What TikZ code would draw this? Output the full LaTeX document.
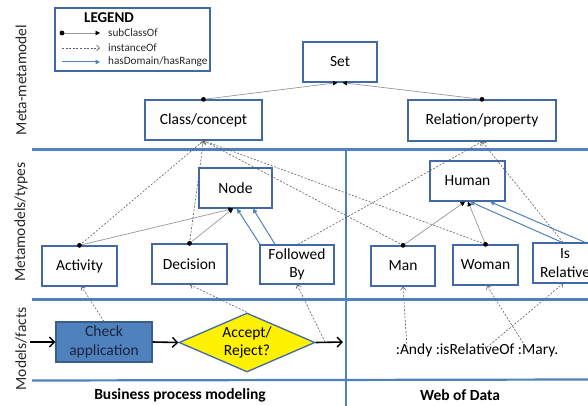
\documentclass[tikz,border=0pt]{standalone}
\usepackage{fontspec}
\setmainfont{Carlito}
\usetikzlibrary{arrows.meta,shapes.geometric}
\definecolor{boxblue}{RGB}{65,105,165}
\definecolor{linegray}{RGB}{150,150,150}
\definecolor{dashgray}{RGB}{95,95,95}
\definecolor{domblue}{RGB}{79,129,189}
\definecolor{divblue}{RGB}{79,129,189}
\definecolor{checkfill}{RGB}{79,129,189}
\definecolor{checkborder}{RGB}{56,93,138}
\definecolor{checktext}{RGB}{25,35,65}
\definecolor{sectext}{RGB}{40,40,40}
\newcommand\lblfont{\fontsize{15.5}{18.5}\selectfont}
\newcommand\legfont{\fontsize{11.2}{13}\selectfont}
\begin{document}
\begin{tikzpicture}[x=1pt,y=-1pt,
  box/.style={draw=boxblue,line width=1.3pt,fill=white,inner sep=0pt,font=\lblfont,align=center,text=black},
  subcl/.style={draw=linegray,line width=0.7pt,-{Triangle[length=4.5pt,width=4.5pt,color=black]}},
  inst/.style={draw=dashgray,line width=0.6pt,dash pattern=on 2pt off 1.6pt,-{Straight Barb[length=3pt,width=5.5pt]}},
  dom/.style={draw=domblue,line width=1pt,-{Triangle[length=4.5pt,width=4.5pt]}},
  flow/.style={draw=black,line width=1.6pt,-{Straight Barb[length=5pt,width=10pt,line width=1.4pt]}},
  divline/.style={draw=divblue,line width=2.2pt},
  dotf/.style={fill=black},
  seclabel/.style={rotate=90,font=\fontsize{15.5}{18}\selectfont,text=sectext},
  legtext/.style={anchor=west,font=\legfont,text=sectext,inner sep=0pt}
]
\useasboundingbox (0,0) rectangle (588,406);
\begin{scope}
\clip (0,0) rectangle (588,406);

% dividers
\draw[divline] (32,149.5) -- (588,149.5);
\draw[divline] (32,299.5) -- (588,299.5);
\draw[divline] (32,380.5) -- (588,379.5);
\draw[divline] (346,149.5) -- (346,406);

% section labels
\node[seclabel] at (21,80) {Meta-metamodel};
\node[seclabel] at (21,222) {Metamodels/types};
\node[seclabel] at (21,349) {Models/facts};

% legend
\node[draw=boxblue,line width=1.3pt,minimum width=155pt,minimum height=63pt,inner sep=0pt] (legend) at (132.5,39.5) {};
\node[font=\bfseries\fontsize{15}{17}\selectfont,text=black] (legtitle) at (109,18) {LEGEND};
\coordinate (l1a) at (62,33); \coordinate (l1b) at (100,33);
\coordinate (l2a) at (62,48); \coordinate (l2b) at (100,48);
\coordinate (l3a) at (62,62); \coordinate (l3b) at (100,62);
\draw[subcl] (l1a) -- (l1b);
\fill[dotf] (l1a) circle (2.4pt);
\draw[inst] (l2a) -- (l2b);
\draw[dom] (l3a) -- (l3b);
\node[legtext] (lt1) at (108,33) {subClassOf};
\node[legtext] (lt2) at (108,48) {instanceOf};
\node[legtext] (lt3) at (108,62) {hasDomain/hasRange};

% meta-metamodel
\node[box,minimum width=74pt,minimum height=40pt] (set) at (340,62) {Set};
\node[box,minimum width=117pt,minimum height=40pt] (class) at (203.5,120) {Class/concept};
\node[box,minimum width=148pt,minimum height=41pt] (rel) at (482,120.5) {Relation/property};

% metamodels
\node[box,minimum width=73pt,minimum height=40pt] (nodeb) at (235.5,188) {Node};
\node[box,minimum width=75pt,minimum height=40pt] (activity) at (79.5,266) {Activity};
\node[box,minimum width=75pt,minimum height=40pt] (decision) at (189.5,264) {Decision};
\node[box,minimum width=74pt,minimum height=39pt] (fb) at (297,264.5) {Followed\\By};
\node[box,minimum width=75pt,minimum height=40pt] (human) at (467.5,181) {Human};
\node[box,minimum width=64pt,minimum height=40pt] (man) at (403,266) {Man};
\node[box,minimum width=65pt,minimum height=40pt] (woman) at (485.5,265) {Woman};
\node[box,minimum width=64pt,minimum height=40pt] (isrel) at (565,263) {Is\\Relative};

% models/facts
\node[draw=checkborder,line width=1.2pt,fill=checkfill,minimum width=96pt,minimum height=40pt,inner sep=0pt,font=\lblfont,align=center,text=checktext] (check) at (104,342) {Check\\application};
\node[diamond,aspect=2.3,draw=boxblue,line width=1.3pt,fill=yellow,minimum width=136pt,minimum height=59pt,inner sep=0pt,font=\lblfont,align=center,text=black] (dia) at (247,342.5) {Accept/\\Reject?};
\node[font=\lblfont,text=black,inner sep=0pt] (facts) at (477,350) {:Andy :isRelativeOf :Mary.};
\coordinate (flowstart) at (30,342);
\coordinate (flowend) at (343,342);
\coordinate (fbarrow) at (325,342);
\draw[flow] (flowstart) -- (check.west);
\draw[flow] (check.east) -- (dia.west);
\draw[flow] (dia.east) -- (flowend);

% subClassOf
\draw[subcl] (class.north) -- ([xshift=-2.5pt]set.south);
\draw[subcl] (rel.north) -- ([xshift=2.5pt]set.south);
\draw[subcl] (activity.north) -- ([xshift=-2.5pt]nodeb.south);
\draw[subcl] (decision.north) -- ([xshift=-2.5pt]nodeb.south);
\draw[subcl] (man.north) -- ([xshift=-2.5pt]human.south);
\draw[subcl] (woman.north) -- ([xshift=0.5pt]human.south);

% hasDomain / hasRange
\draw[dom] ([xshift=-37pt]fb.north) -- ([xshift=1.5pt]nodeb.south);
\draw[dom] ([xshift=-22pt]fb.north) -- ([xshift=17.5pt]nodeb.south);
\draw[dom] ([xshift=-3pt]isrel.north) -- ([xshift=2.5pt]human.south);
\draw[dom] ([xshift=20pt]isrel.north) -- ([xshift=22.5pt]human.south);

% instanceOf (types -> meta)
\draw[inst] (activity.north) -- (class.south);
\draw[inst] (decision.north) -- (class.south);
\draw[inst] (man.north) -- (class.south);
\draw[inst] (woman.north) -- (class.south);
\draw[inst] ([xshift=1pt]fb.north) -- (rel.south);
\draw[inst] ([xshift=-2pt]isrel.north) -- (rel.south);

% instanceOf (facts -> types)
\draw[inst] (check.north) -- ([xshift=2pt]activity.south);
\draw[inst] (dia.north) -- ([xshift=0.5pt]decision.south);
\draw[inst] (fbarrow) -- (fb.south);
\draw[inst] ([xshift=-70pt,yshift=-4pt]facts.north) -- (man.south);
\draw[inst] ([xshift=10pt,yshift=-4pt]facts.north) -- ([xshift=-2pt]isrel.south);
\draw[inst] ([xshift=50pt,yshift=-6pt]facts.north) -- ([xshift=1.5pt]woman.south);

% subClassOf dots
\foreach \n in {class,rel,activity,decision,man,woman}
  \fill[dotf] (\n.north) circle (2.4pt);

% bottom labels
\node[font=\bfseries\lblfont,text=black] (bpm) at (180,395) {Business process modeling};
\node[font=\bfseries\lblfont,text=black] (wod) at (460,395) {Web of Data};
\end{scope}
\end{tikzpicture}
\end{document}
